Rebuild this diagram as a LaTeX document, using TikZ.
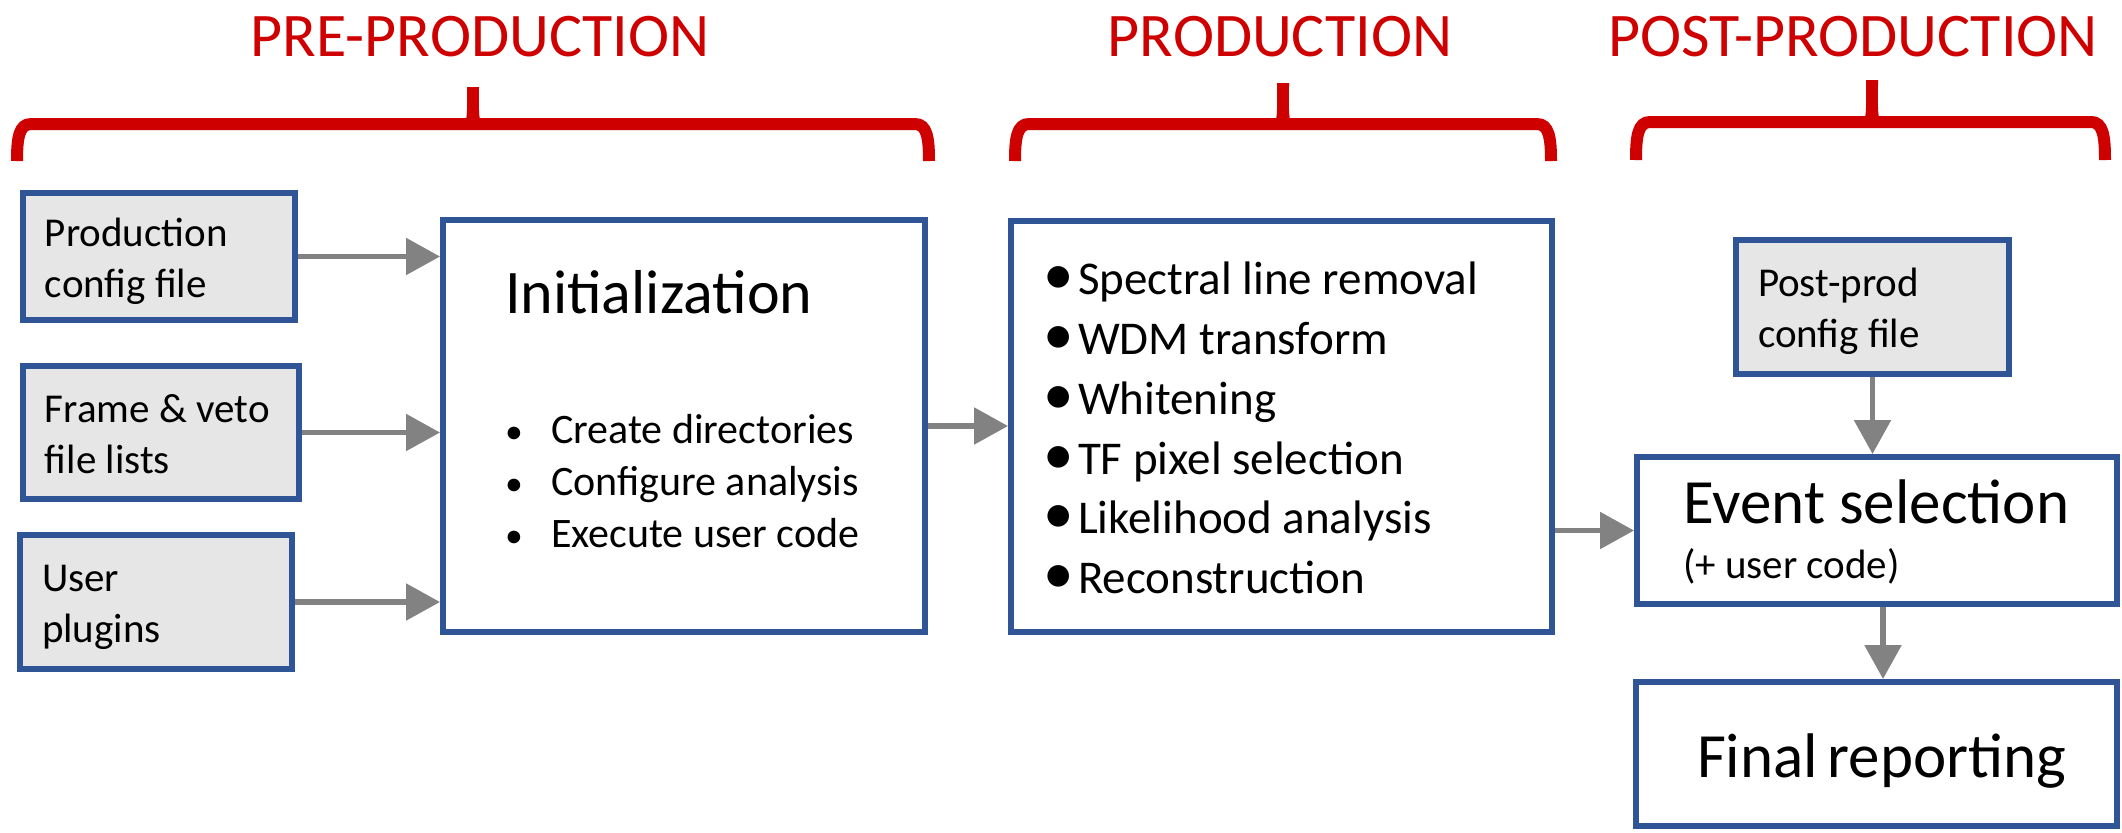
\documentclass[tikz,border=0pt]{standalone}
\usepackage{fontspec}
\setmainfont{Carlito}
\usetikzlibrary{arrows.meta}

\definecolor{boxblue}{RGB}{47,85,151}
\definecolor{inputgray}{RGB}{230,230,230}
\definecolor{flowgray}{RGB}{130,130,130}
\definecolor{phasered}{RGB}{206,0,0}

% struts that fix the top of a first line and the bottom of a last line
\newcommand\toplinestrut{\rule{0pt}{.95em}}
\newcommand\botlinestrut{\rule[-.2em]{0pt}{.2em}}
% bullets
\newcommand\smallitem{\makebox[23pt][l]{\scalebox{0.85}{•}}}
\newcommand\bigitem{\makebox[17.5pt][l]{\scalebox{1.3}{•}}}

% phase bracket: left, right, tip x, bar y, tip top y, end y
\newcommand\phasebrace[6]{%
  \draw[brace] (#1,#6) .. controls (#1,{#4+14}) and ({#1+2},#4) .. ({#1+14},#4)
    -- ({#2-14},#4) .. controls ({#2-2},#4) and (#2,{#4+14}) .. (#2,#6);
  \fill[phasered] ({#3-9},#4) .. controls ({#3-5},{#4-4}) and ({#3-6},{#4-20}) .. ({#3-6},#5)
    -- ({#3+6},#5) .. controls ({#3+6},{#4-20}) and ({#3+5},{#4-4}) .. ({#3+9},#4) -- cycle;
}

\begin{document}
\begin{tikzpicture}[x=0.5pt,y=-0.5pt,
  box/.style={draw=boxblue, line width=3pt, inner sep=0pt, align=flush left},
  inputbox/.style={box, fill=inputgray, font=\fontsize{20.5}{25.5}\selectfont},
  flow/.style={draw=flowgray, line width=2.75pt, -{Triangle[length=17pt,width=18pt]}},
  phase/.style={text=phasered, font=\fontsize{31}{37}\selectfont, anchor=base, inner sep=0pt},
  brace/.style={draw=phasered, line width=6pt},
]
\useasboundingbox[fill=white] (0,0) rectangle (2122,832);

% phase headings and brackets
\node[phase] (pre)  at (480,56)  {PRE-PRODUCTION};
\node[phase] (prodh) at (1280,56) {PRODUCTION};
\node[phase] (posth) at (1853,56) {POST-PRODUCTION};
\phasebrace{17}{929}{473}{124}{87}{161}
\phasebrace{1015}{1551}{1283}{124}{83}{161}
\phasebrace{1636}{2105}{1872}{122}{80}{160}

% inputs
\node[inputbox, minimum width=136pt, minimum height=63.5pt, text width=114pt] (cfg) at (159,256.5)
  {\toplinestrut Production\\config~file\botlinestrut};
\node[inputbox, minimum width=138pt, minimum height=66.5pt, text width=116pt] (frame) at (161,432.5)
  {\toplinestrut Frame~\&~veto\\file~lists\botlinestrut};
\node[inputbox, minimum width=136pt, minimum height=67pt, text width=114pt] (user) at (156,602)
  {\toplinestrut User\\plugins\botlinestrut};

% initialization
\node[box, minimum width=241pt, minimum height=206pt, text width=179pt] (init) at (684,426)
  {{\fontsize{31}{37}\selectfont\toplinestrut Initialization\par}
   \vspace{39pt}
   {\fontsize{21}{26}\selectfont
    \smallitem Create~directories\\
    \smallitem Configure~analysis\\
    \smallitem Execute~user~code\rule[-25pt]{0pt}{25pt}\par}};

% production steps
\node[box, minimum width=270.5pt, minimum height=205.5pt, text width=238.5pt,
      font=\fontsize{23.5}{29.9}\selectfont] (prod) at (1281.5,426.5)
  {\toplinestrut\bigitem Spectral~line~removal\\
   \bigitem WDM~transform\\
   \bigitem Whitening\\
   \bigitem TF~pixel~selection\\
   \bigitem Likelihood~analysis\\
   \bigitem Reconstruction\botlinestrut};

% post-production
\node[inputbox, minimum width=136.5pt, minimum height=67pt, text width=114.5pt] (post) at (1872.5,307)
  {\toplinestrut Post-prod\\config~file\botlinestrut};
\node[box, minimum width=240pt, minimum height=73.5pt, text width=194pt] (event) at (1877,530.5)
  {{\fontsize{31.5}{37}\selectfont\toplinestrut Event~selection\par}
   {\fontsize{20.5}{27.5}\selectfont (+~user~code)\rule[-9pt]{0pt}{9pt}\par}};
\node[box, minimum width=240.5pt, minimum height=72pt, text width=179.5pt,
      font=\fontsize{31.5}{37}\selectfont] (final) at (1876.5,754)
  {\toplinestrut Final~reporting\botlinestrut};

% connectors
\draw[flow] (cfg.east) -- (cfg.east -| init.west);
\draw[flow] (frame.east) -- (frame.east -| init.west);
\draw[flow] (user.east) -- (user.east -| init.west);
\draw[flow] (init.east) -- (init.east -| prod.west);
\draw[flow] (event.west -| prod.east) -- (event.west);
\draw[flow] (post.south) -- (post.south |- event.north);
\coordinate (evout) at ([xshift=3pt]event.south);
\draw[flow] (evout) -- (evout |- final.north);
\end{tikzpicture}
\end{document}
